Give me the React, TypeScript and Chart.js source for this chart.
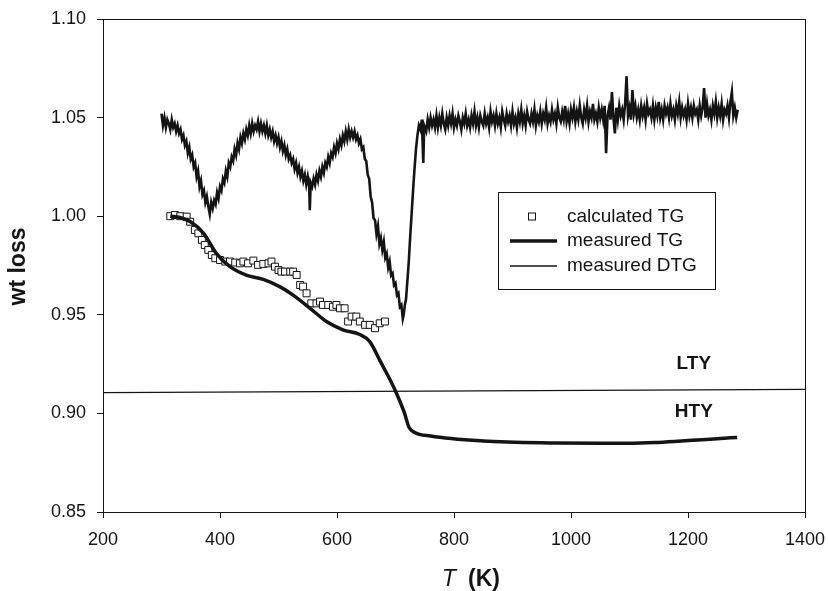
import React, { useEffect, useRef } from 'react';
import { Chart, registerables } from 'chart.js';

Chart.register(...registerables);

const INK = '#141414';
const FONT = '"Liberation Sans", Arial, Helvetica, sans-serif';

const xTicks = [200, 400, 600, 800, 1000, 1200, 1400];
const yTicks = [0.85, 0.9, 0.95, 1.0, 1.05, 1.1];

const legendLabels = ['calculated TG', 'measured TG', 'measured DTG'];
const zoneLabels = ['LTY', 'HTY'];
const zoneLabelT = [1210, 1210];
const zoneLabelV = [0.925, 0.9007];

const boundaryT = [200, 1400];
const boundaryV = [0.9105, 0.9122];

const calcT = [315, 323, 332, 343, 349, 357, 363, 369, 374, 380, 386, 392, 400, 409, 417, 426, 434, 440, 448, 457, 465, 474, 483, 488, 494, 500, 505, 511, 520, 525, 531, 537, 542, 548, 556, 565, 571, 576, 585, 593, 599, 605, 613, 619, 625, 633, 639, 648, 656, 665, 673, 682];
const calcTG = [1.0, 1.0006, 1.0, 0.9998, 0.9972, 0.993, 0.9913, 0.988, 0.9854, 0.9829, 0.9803, 0.9787, 0.9778, 0.977, 0.977, 0.9765, 0.9761, 0.977, 0.9761, 0.9775, 0.9753, 0.9758, 0.9761, 0.977, 0.9744, 0.9727, 0.9719, 0.9719, 0.9719, 0.9719, 0.9702, 0.9651, 0.9643, 0.9609, 0.9558, 0.9558, 0.9567, 0.955, 0.955, 0.9541, 0.955, 0.9533, 0.9533, 0.9466, 0.9491, 0.9491, 0.9466, 0.9449, 0.9449, 0.9432, 0.9457, 0.9466];

const measT = [315, 330, 349, 372, 394, 417, 446, 474, 502, 525, 554, 582, 610, 639, 656, 673, 699, 715, 723, 732, 760, 850, 975, 1050, 1100, 1150, 1200, 1250, 1284];
const measTG = [1.0, 0.9995, 0.9973, 0.9913, 0.981, 0.9744, 0.97, 0.968, 0.9643, 0.96, 0.9533, 0.9466, 0.9424, 0.94, 0.9364, 0.927, 0.912, 0.9005, 0.893, 0.8905, 0.8885, 0.886, 0.885, 0.8848, 0.8848, 0.8853, 0.8862, 0.8872, 0.8878];

// measured DTG (scaled), [T, value]
const dtgData: [number, number][] = [
  [300, 1.052], [302.5, 1.046], [305, 1.05], [307.5, 1.045], [310, 1.049], [312.5, 1.047], [315, 1.044], [317.5, 1.049], [320, 1.045], [322.5, 1.047],
  [325, 1.043], [327.5, 1.046], [330, 1.042], [332.5, 1.044], [335, 1.039], [337.5, 1.041], [340, 1.036], [342.5, 1.038], [345, 1.032], [347.5, 1.035],
  [350, 1.029], [352.5, 1.031], [355, 1.025], [357.5, 1.027], [360, 1.02], [362.5, 1.023], [365, 1.015], [367.5, 1.018], [370, 1.011], [372.5, 1.013],
  [375, 1.007], [377.5, 1.01], [380, 1.005], [382.5, 1.001], [385, 1.007], [387.5, 1.004], [390, 1.008], [392.5, 1.006], [395, 1.012], [397.5, 1.009],
  [400, 1.015], [402.5, 1.013], [405, 1.019], [407.5, 1.017], [410, 1.023], [412.5, 1.02], [415, 1.027], [417.5, 1.025], [420, 1.03], [422.5, 1.028],
  [425, 1.034], [427.5, 1.031], [430, 1.037], [432.5, 1.034], [435, 1.04], [437.5, 1.037], [440, 1.042], [442.5, 1.039], [445, 1.044], [447.5, 1.041],
  [450, 1.046], [452.5, 1.042], [455, 1.047], [457.5, 1.043], [460, 1.046], [462.5, 1.044], [465, 1.048], [467.5, 1.043], [470, 1.047], [472.5, 1.043],
  [475, 1.046], [477.5, 1.042], [480, 1.046], [482.5, 1.041], [485, 1.044], [487.5, 1.04], [490, 1.043], [492.5, 1.038], [495, 1.041], [497.5, 1.037],
  [500, 1.04], [502.5, 1.035], [505, 1.038], [507.5, 1.033], [510, 1.036], [512.5, 1.031], [515, 1.034], [517.5, 1.029], [520, 1.031], [522.5, 1.027],
  [525, 1.029], [527.5, 1.024], [530, 1.027], [532.5, 1.022], [535, 1.025], [537.5, 1.02], [540, 1.023], [542.5, 1.018], [545, 1.021], [547.5, 1.016],
  [550, 1.02], [552.5, 1.015], [553.5, 1.003], [555, 1.017], [557.5, 1.015], [560, 1.019], [562.5, 1.016], [565, 1.021], [567.5, 1.018], [570, 1.023],
  [572.5, 1.02], [575, 1.025], [577.5, 1.022], [580, 1.027], [582.5, 1.025], [585, 1.03], [587.5, 1.027], [590, 1.032], [592.5, 1.03], [595, 1.035],
  [597.5, 1.032], [600, 1.037], [602.5, 1.034], [605, 1.039], [607.5, 1.036], [610, 1.041], [612.5, 1.038], [615, 1.043], [617.5, 1.039], [620, 1.044],
  [622.5, 1.04], [625, 1.043], [627.5, 1.04], [630, 1.043], [632.5, 1.039], [635, 1.041], [637.5, 1.037], [640, 1.039], [642.5, 1.034], [645, 1.035],
  [647.5, 1.029], [650, 1.028], [652.5, 1.021], [655, 1.019], [657.5, 1.01], [660, 1.007], [662.5, 0.999], [665, 0.998], [667.5, 0.991], [670, 0.995],
  [672.5, 0.986], [675, 0.989], [677.5, 0.983], [680, 0.987], [682.5, 0.979], [685, 0.981], [687.5, 0.974], [690, 0.977], [692.5, 0.97], [695, 0.971],
  [697.5, 0.965], [700, 0.966], [702.5, 0.96], [705, 0.961], [707.5, 0.954], [710, 0.955], [712.5, 0.948], [714, 0.95], [716, 0.955], [718, 0.958],
  [720, 0.966], [722.5, 0.976], [725, 0.989], [727.5, 1.001], [730, 1.013], [732.5, 1.024], [735, 1.034], [737.5, 1.041], [740, 1.046], [742.5, 1.044],
  [745, 1.049], [747.5, 1.027], [749, 1.046], [752.5, 1.043], [755, 1.049], [757.5, 1.045], [760, 1.05], [762.5, 1.046], [765, 1.049], [767.5, 1.045],
  [770, 1.051], [772.5, 1.045], [775, 1.05], [777.5, 1.046], [780, 1.052], [782.5, 1.047], [785, 1.044], [787.5, 1.05], [790, 1.046], [792.5, 1.051],
  [795, 1.047], [797.5, 1.052], [800, 1.045], [802.5, 1.049], [805, 1.046], [807.5, 1.051], [810, 1.048], [812.5, 1.044], [815, 1.05], [817.5, 1.047],
  [820, 1.052], [822.5, 1.046], [825, 1.049], [827.5, 1.045], [830, 1.051], [832.5, 1.047], [835, 1.053], [837.5, 1.046], [840, 1.05], [842.5, 1.045],
  [845, 1.051], [847.5, 1.048], [850, 1.046], [852.5, 1.052], [855, 1.047], [857.5, 1.05], [860, 1.045], [862.5, 1.053], [865, 1.048], [867.5, 1.051],
  [870, 1.046], [872.5, 1.052], [875, 1.047], [877.5, 1.05], [880, 1.045], [882.5, 1.053], [885, 1.049], [887.5, 1.046], [890, 1.052], [892.5, 1.048],
  [895, 1.051], [897.5, 1.046], [900, 1.053], [902.5, 1.047], [905, 1.05], [907.5, 1.045], [910, 1.052], [912.5, 1.048], [915, 1.054], [917.5, 1.047],
  [920, 1.051], [922.5, 1.046], [925, 1.053], [927.5, 1.049], [930, 1.047], [932.5, 1.052], [935, 1.048], [937.5, 1.054], [940, 1.046], [942.5, 1.051],
  [945, 1.048], [947.5, 1.053], [950, 1.047], [952.5, 1.052], [955, 1.049], [957.5, 1.055], [960, 1.047], [962.5, 1.051], [965, 1.048], [967.5, 1.054],
  [970, 1.049], [972.5, 1.052], [975, 1.047], [977.5, 1.055], [980, 1.05], [982.5, 1.048], [985, 1.053], [987.5, 1.049], [990, 1.056], [992.5, 1.048],
  [995, 1.052], [997.5, 1.047], [1000, 1.054], [1002.5, 1.05], [1005, 1.055], [1007.5, 1.048], [1010, 1.053], [1012.5, 1.049], [1015, 1.056], [1017.5, 1.05],
  [1020, 1.047], [1022.5, 1.054], [1025, 1.05], [1027.5, 1.056], [1030, 1.048], [1032.5, 1.053], [1035, 1.05], [1037.5, 1.057], [1040, 1.049], [1042.5, 1.052],
  [1045, 1.048], [1047.5, 1.055], [1050, 1.05], [1052.5, 1.054], [1055, 1.049], [1057.5, 1.056], [1060, 1.032], [1062.5, 1.051], [1065, 1.055], [1067.5, 1.049],
  [1070, 1.063], [1072.5, 1.05], [1075, 1.042], [1077.5, 1.055], [1080, 1.049], [1082.5, 1.056], [1085, 1.051], [1087.5, 1.054], [1090, 1.049], [1092.5, 1.057],
  [1095, 1.071], [1097.5, 1.051], [1100, 1.055], [1102.5, 1.049], [1105, 1.064], [1107.5, 1.052], [1110, 1.056], [1112.5, 1.05], [1115, 1.054], [1117.5, 1.049],
  [1120, 1.056], [1122.5, 1.051], [1125, 1.055], [1127.5, 1.049], [1130, 1.057], [1132.5, 1.052], [1135, 1.054], [1137.5, 1.05], [1140, 1.056], [1142.5, 1.049],
  [1145, 1.055], [1147.5, 1.051], [1150, 1.058], [1152.5, 1.05], [1155, 1.054], [1157.5, 1.049], [1160, 1.056], [1162.5, 1.052], [1165, 1.055], [1167.5, 1.05],
  [1170, 1.057], [1172.5, 1.051], [1175, 1.054], [1177.5, 1.049], [1180, 1.056], [1182.5, 1.052], [1185, 1.058], [1187.5, 1.05], [1190, 1.055], [1192.5, 1.051],
  [1195, 1.054], [1197.5, 1.049], [1200, 1.057], [1202.5, 1.051], [1205, 1.055], [1207.5, 1.05], [1210, 1.056], [1212.5, 1.052], [1215, 1.054], [1217.5, 1.049],
  [1220, 1.056], [1222.5, 1.051], [1225, 1.055], [1227.5, 1.065], [1230, 1.05], [1232.5, 1.057], [1235, 1.051], [1237.5, 1.054], [1240, 1.049], [1242.5, 1.056],
  [1245, 1.052], [1247.5, 1.058], [1250, 1.05], [1252.5, 1.055], [1255, 1.051], [1257.5, 1.057], [1260, 1.049], [1262.5, 1.054], [1265, 1.052], [1267.5, 1.056],
  [1270, 1.05], [1272.5, 1.058], [1275, 1.063], [1277.5, 1.051], [1280, 1.055], [1282.5, 1.05], [1285, 1.054],
];

const toPoints = (xs: number[], ys: number[]) => xs.map((x, i) => ({ x, y: ys[i] }));

const decorPlugin = {
  id: 'decor',
  afterDraw(chart: any) {
    const ctx = chart.ctx as CanvasRenderingContext2D;
    const { left, top, right, bottom } = chart.chartArea;
    const xs = chart.scales.x;
    const ys = chart.scales.y;
    ctx.save();
    ctx.strokeStyle = INK;
    ctx.lineWidth = 1;
    ctx.strokeRect(Math.round(left) + 0.5, Math.round(top) + 0.5, Math.round(right - left), Math.round(bottom - top));

    ctx.fillStyle = INK;
    ctx.font = `bold 19px ${FONT}`;
    ctx.textAlign = 'center';
    ctx.textBaseline = 'middle';
    zoneLabels.forEach((t, i) => {
      ctx.fillText(t, xs.getPixelForValue(zoneLabelT[i]), ys.getPixelForValue(zoneLabelV[i]));
    });

    ctx.save();
    ctx.translate(25, (top + bottom) / 2 + 1);
    ctx.rotate(-Math.PI / 2);
    ctx.font = `bold 23px ${FONT}`;
    ctx.textAlign = 'center';
    ctx.textBaseline = 'alphabetic';
    ctx.fillText('wt loss', 0, 0);
    ctx.restore();

    ctx.textAlign = 'left';
    ctx.textBaseline = 'alphabetic';
    ctx.font = `italic 23px ${FONT}`;
    ctx.fillText('T', left + 339, 586);
    ctx.font = `bold 23px ${FONT}`;
    ctx.fillText('(K)', left + 365, 586);

    const bx = 498.5, by = 192.5, bw = 217, bh = 97;
    ctx.fillStyle = '#fff';
    ctx.fillRect(bx, by, bw, bh);
    ctx.strokeStyle = INK;
    ctx.lineWidth = 1;
    ctx.strokeRect(bx, by, bw, bh);
    const rows = [216.5, 241, 266];
    ctx.strokeRect(528.5, rows[0] - 3.5, 7, 7);
    ctx.lineWidth = 3.5;
    ctx.beginPath();
    ctx.moveTo(510, rows[1]);
    ctx.lineTo(557, rows[1]);
    ctx.stroke();
    ctx.lineWidth = 1.6;
    ctx.beginPath();
    ctx.moveTo(510, rows[2]);
    ctx.lineTo(557, rows[2]);
    ctx.stroke();
    ctx.fillStyle = INK;
    ctx.font = `19px ${FONT}`;
    ctx.textAlign = 'left';
    ctx.textBaseline = 'middle';
    legendLabels.forEach((t, i) => ctx.fillText(t, 567, rows[i]));
    ctx.restore();
  },
};

export default function App() {
  const ref = useRef<HTMLCanvasElement | null>(null);
  useEffect(() => {
    if (!ref.current) return;
    const chart = new Chart(ref.current, {
      type: 'scatter',
      data: {
        datasets: [
          {
            label: 'boundary',
            data: toPoints(boundaryT, boundaryV),
            showLine: true,
            borderColor: INK,
            borderWidth: 1.2,
            pointRadius: 0,
          },
          {
            label: legendLabels[2],
            data: dtgData.map(([x, y]) => ({ x, y })),
            showLine: true,
            borderColor: INK,
            borderWidth: 2.6,
            pointRadius: 0,
            tension: 0,
          },
          {
            label: legendLabels[1],
            data: toPoints(measT, measTG),
            showLine: true,
            borderColor: INK,
            borderWidth: 3.5,
            pointRadius: 0,
            cubicInterpolationMode: 'monotone',
          },
          {
            label: legendLabels[0],
            data: toPoints(calcT, calcTG),
            showLine: false,
            pointStyle: 'rect',
            pointRadius: 4.9,
            pointBorderWidth: 1,
            pointBorderColor: INK,
            pointBackgroundColor: '#fff',
            borderColor: INK,
            backgroundColor: '#fff',
          },
        ],
      },
      options: {
        animation: false,
        responsive: false,
        maintainAspectRatio: false,
        layout: { padding: { left: 0, right: 23, top: 19, bottom: 0 } },
        plugins: { legend: { display: false }, tooltip: { enabled: false } },
        scales: {
          x: {
            type: 'linear',
            min: 200,
            max: 1400,
            afterBuildTicks: (s: any) => {
              s.ticks = xTicks.map((v) => ({ value: v }));
            },
            afterFit: (s: any) => {
              s.height = 79;
              s.paddingLeft = 0;
              s.paddingRight = 0;
            },
            grid: { drawOnChartArea: false, drawTicks: true, tickLength: 6, color: INK, lineWidth: 1 },
            border: { display: true, color: INK, width: 1 },
            ticks: {
              color: INK,
              font: { family: FONT, size: 18 },
              padding: 11,
              maxRotation: 0,
              callback: (v: any) => String(v),
            },
          },
          y: {
            type: 'linear',
            min: 0.85,
            max: 1.1,
            afterBuildTicks: (s: any) => {
              s.ticks = yTicks.map((v) => ({ value: v }));
            },
            afterFit: (s: any) => {
              s.width = 103;
              s.paddingTop = 0;
              s.paddingBottom = 0;
            },
            grid: { drawOnChartArea: false, drawTicks: true, tickLength: 6, color: INK, lineWidth: 1 },
            border: { display: true, color: INK, width: 1 },
            ticks: {
              color: INK,
              font: { family: FONT, size: 18 },
              padding: 11,
              callback: (v: any) => Number(v).toFixed(2),
            },
          },
        },
      },
      plugins: [decorPlugin],
    });
    return () => chart.destroy();
  }, []);
  return (
    <div style={{ position: 'fixed', left: 0, top: 0, width: 828, height: 591, background: '#fff' }}>
      <canvas ref={ref} width={828} height={591} style={{ display: 'block' }} />
    </div>
  );
}
